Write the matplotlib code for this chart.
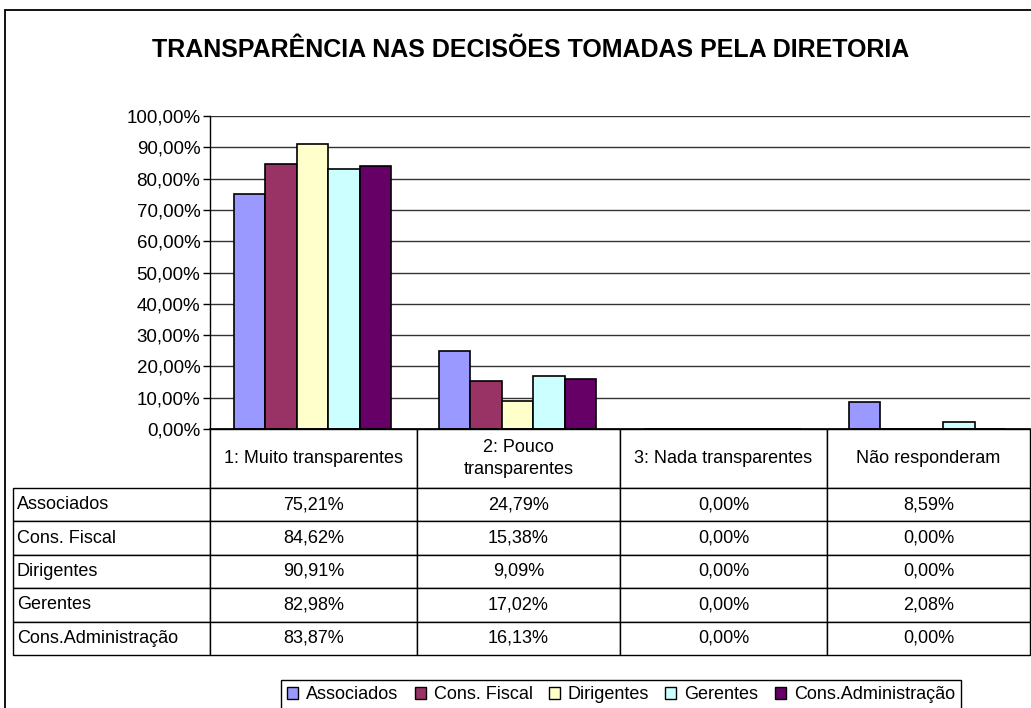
import matplotlib
matplotlib.use("Agg")
import matplotlib.pyplot as plt
from matplotlib.patches import Patch, Rectangle
from matplotlib.ticker import FuncFormatter, MultipleLocator

plt.rcParams['font.family'] = ['Liberation Sans', 'DejaVu Sans']

categorias = ["1: Muito transparentes", "2: Pouco\ntransparentes",
              "3: Nada transparentes", "Não responderam"]
series = ["Associados", "Cons. Fiscal", "Dirigentes", "Gerentes", "Cons.Administração"]
associados = [75.21, 24.79, 0.00, 8.59]
cons_fiscal = [84.62, 15.38, 0.00, 0.00]
dirigentes = [90.91, 9.09, 0.00, 0.00]
gerentes = [82.98, 17.02, 0.00, 2.08]
cons_adm = [83.87, 16.13, 0.00, 0.00]
cores = ["#9999FF", "#993366", "#FFFFCC", "#CCFFFF", "#660066"]

valores = [associados, cons_fiscal, dirigentes, gerentes, cons_adm]

W, H = 1031, 708
fig = plt.figure(figsize=(W / 100, H / 100), dpi=100)

# moldura externa do grafico
fig.patches.append(Rectangle((5 / W, -0.1), 1.2, 1 - 10 / H + 0.1,
                             transform=fig.transFigure, fill=False,
                             edgecolor="black", lw=1.3))

fig.text(531 / W, 1 - 50 / H, "TRANSPARÊNCIA NAS DECISÕES TOMADAS PELA DIRETORIA",
         ha="center", va="center", fontsize=18, fontweight="bold")

ax = fig.add_axes([210 / W, 1 - 429 / H, 820 / W, 313 / H])
largura = 1 / 6.5
for j, (nome, vals) in enumerate(zip(series, valores)):
    xs = [i + (j - 2) * largura for i in range(len(categorias))]
    ax.bar(xs, vals, width=largura, color=cores[j], edgecolor="black",
           linewidth=1.2, label=nome, zorder=2)

ax.set_xlim(-0.5, 3.5)
ax.set_ylim(0, 100)
ax.yaxis.set_major_locator(MultipleLocator(10))
ax.yaxis.set_major_formatter(FuncFormatter(lambda v, p: f"{v:.2f}%".replace(".", ",")))
ax.tick_params(axis="y", length=5, width=1, pad=2, labelsize=13.5)
ax.set_xticks([])
ax.grid(axis="y", color="#333333", linewidth=1, zorder=0)
for s in ["top", "right"]:
    ax.spines[s].set_visible(False)
ax.spines["left"].set_linewidth(1)
ax.spines["bottom"].set_linewidth(1.2)

# tabela de dados
linhas = [[nome] + [f"{v:.2f}%".replace(".", ",") for v in vals]
          for nome, vals in zip(series, valores)]
larguras = [197, 207, 203, 207, 203]
tot = sum(larguras)
tab = ax.table(cellText=linhas, colLabels=[""] + categorias,
               colWidths=[l / tot for l in larguras],
               bbox=[(13 - 210) / 820, (429 - 655) / 313, (1030 - 13) / 820, (655 - 429) / 313])
tab.auto_set_font_size(False)
tab.set_fontsize(13)
for (r, c), cell in tab.get_celld().items():
    cell.set_height(59 if r == 0 else 33.4)
    cell.set_linewidth(1)
    cell.set_edgecolor("black")
    cell.PAD = 0.02
    cell.get_text().set_linespacing(1.45)
    if c == 0:
        cell.get_text().set_ha("left")
        cell._loc = "left"
    else:
        cell.get_text().set_ha("center")
        cell._loc = "center"
tab[(0, 0)].visible_edges = "R"

handles = [Patch(facecolor=cores[j], edgecolor="black", linewidth=1) for j in range(len(series))]
leg = fig.legend(handles, series, loc="upper center", bbox_to_anchor=(621 / W, 1 - 680 / H),
                 ncol=5, fancybox=False, edgecolor="black", framealpha=1, fontsize=13,
                 handlelength=0.6, handleheight=0.6, handletextpad=0.45,
                 columnspacing=0.9, borderpad=0.35, borderaxespad=0)
leg.get_frame().set_linewidth(1)

fig.savefig("out.png", dpi=100)
